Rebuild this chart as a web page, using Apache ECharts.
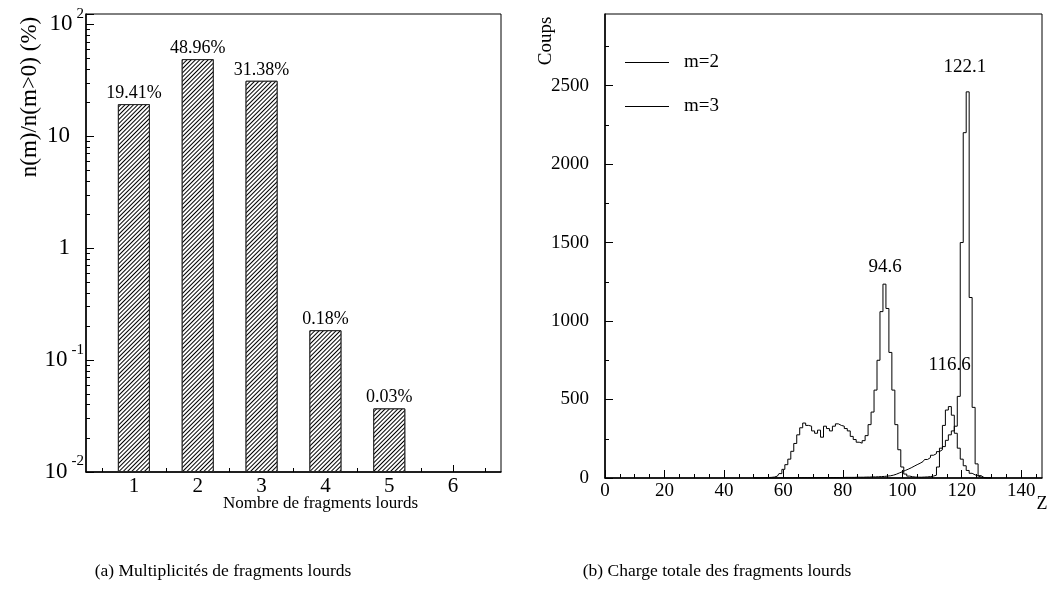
<!DOCTYPE html>
<html><head><meta charset="utf-8">
<script src="https://cdn.jsdelivr.net/npm/echarts@6/dist/echarts.min.js"></script>
<style>html,body{margin:0;padding:0;background:#fff}#c{width:1050px;height:601px}</style>
</head><body><div id="c"></div>
<script>
// ---- Left panel data: multiplicity of heavy fragments ----
const multCategories = [1, 2, 3, 4, 5];
const multValues = [19.41, 48.96, 31.38, 0.185, 0.037];
const multLabels = ['19.41%', '48.96%', '31.38%', '0.18%', '0.03%'];
const multTickValues = [1, 2, 3, 4, 5, 6];
const multMinorTickValues = [0.5, 1.5, 2.5, 3.5, 4.5, 5.5, 6.5];

// ---- Right panel data: total charge of heavy fragments ----
const zBins = [50,51,52,53,54,55,56,57,58,59,60,61,62,63,64,65,66,67,68,69,70,71,72,73,74,75,76,77,78,79,80,81,82,83,84,85,86,87,88,89,90,91,92,93,94,95,96,97,98,99,100,101,102,103,104,105,106,107,108,109,110,111,112,113,114,115,116,117,118,119,120,121,122,123,124,125,126,127,128,129,130];
const m2Counts = [0,0,0,1,2,3,4,6,12,28,
  55,85,120,170,220,275,320,350,335,330,
  300,285,305,260,330,315,300,330,345,335,
  330,315,300,265,245,228,222,238,270,340,
  420,560,750,1060,1235,1080,800,560,340,180,
  70,25,12,8,6,5,5,6,7,9,
  12,18,70,190,335,433,455,400,285,190,
  120,78,48,30,20,13,6,2,0,0,
  0];
const m3Counts = [0,0,0,0,0,0,0,0,0,1,
  1,1,1,1,2,2,2,2,2,2,
  2,2,3,3,3,3,3,3,3,3,
  3,4,4,4,4,5,5,5,6,6,
  7,7,8,9,10,12,14,18,24,32,
  40,48,56,65,75,85,94,105,118,130,
  145,155,168,180,200,240,275,300,330,520,
  1500,2200,2460,1150,450,90,15,3,0,0,
  0];
const peakNames = ['94.6', '116.6', '122.1'];
const peakZ = [94.6, 116.6, 122.1];
const peakCounts = [1240, 455, 2460];
const zTickValues = [0, 20, 40, 60, 80, 100, 120, 140];
const zMinorTickValues = [5,10,15,25,30,35,45,50,55,65,70,75,85,90,95,105,110,115,125,130,135,145];
const countTickValues = [0, 500, 1000, 1500, 2000, 2500];
const countMinorTickValues = [250, 750, 1250, 1750, 2250, 2750];

const FONT = '"Liberation Serif", "Times New Roman", serif';
const logMax = 124;
const logMinorTicks = [];
[0.01, 0.1, 1, 10].forEach(function (d) { for (let k = 2; k <= 9; k++) logMinorTicks.push(Math.log10(k * d)); });

const chart = echarts.init(document.getElementById('c'), null, { renderer: 'canvas' });
const black = '#000';
const axisLineStyle = { show: true, onZero: false, lineStyle: { color: black, width: 1.5 } };
const noLine = { show: false, onZero: false };
const plain = function (v) { return String(v); };

const option = {
  animation: false,
  backgroundColor: '#fff',
  aria: { enabled: true, decal: { show: true } },
  textStyle: { fontFamily: FONT, color: black },
  grid: [
    { left: 86, top: 14, width: 415, height: 458, show: true, borderColor: black, borderWidth: 1, containLabel: false },
    { left: 605, top: 14, width: 437, height: 464, show: true, borderColor: black, borderWidth: 1, containLabel: false }
  ],
  legend: {
    data: ['m=2', 'm=3'],
    orient: 'vertical',
    left: 620, top: 48,
    icon: 'rect', itemWidth: 44, itemHeight: 1, itemGap: 25,
    textStyle: { fontFamily: FONT, fontSize: 19, color: black, padding: [0, 0, 0, 10] }
  },
  xAxis: [
    { gridIndex: 0, type: 'value', position: 'bottom', min: 0.25, max: 6.75,
      axisLine: axisLineStyle, splitLine: { show: false },
      axisTick: { inside: true, length: 7, customValues: multTickValues, lineStyle: { color: black } },
      axisLabel: { customValues: multTickValues, formatter: plain, fontFamily: FONT, fontSize: 21, color: black, margin: 4 } },
    { gridIndex: 0, type: 'value', position: 'bottom', min: 0.25, max: 6.75,
      axisLine: noLine, splitLine: { show: false }, axisLabel: { show: false },
      axisTick: { inside: true, length: 4, customValues: multMinorTickValues, lineStyle: { color: black } } },
    { gridIndex: 1, type: 'value', position: 'bottom', min: 0, max: 147,
      axisLine: axisLineStyle, splitLine: { show: false },
      axisTick: { inside: true, length: 8, customValues: zTickValues, lineStyle: { color: black } },
      axisLabel: { customValues: zTickValues, formatter: plain, fontFamily: FONT, fontSize: 19, color: black, margin: 4 } },
    { gridIndex: 1, type: 'value', position: 'bottom', min: 0, max: 147,
      axisLine: noLine, splitLine: { show: false }, axisLabel: { show: false },
      axisTick: { inside: true, length: 4, customValues: zMinorTickValues, lineStyle: { color: black } } }
  ],
  yAxis: [
    { gridIndex: 0, type: 'log', position: 'left', logBase: 10, min: 0.01, max: logMax, startValue: 0.01,
      axisLine: axisLineStyle, splitLine: { show: false }, minorTick: { show: false },
      axisTick: { inside: true, length: 8, lineStyle: { color: black } },
      axisLabel: {
        margin: 2, fontFamily: FONT, color: black,
        formatter: function (v) {
          const e = Math.log10(v);
          const r = Math.round(e);
          if (Math.abs(e - r) > 1e-6) return '';
          if (r === 1) return '{b|10}{g|}';
          if (r === 0) return '{b|1}{g|}';
          return '{b|10}{s|' + r + '}';
        },
        rich: {
          b: { fontFamily: FONT, fontSize: 23, lineHeight: 40, color: black },
          s: { fontFamily: FONT, fontSize: 15, lineHeight: 15, verticalAlign: 'top', color: black, padding: [2, 0, 0, 4] },
          g: { width: 14 }
        }
      } },
    { gridIndex: 0, type: 'value', position: 'left', min: -2, max: Math.log10(logMax),
      axisLine: noLine, splitLine: { show: false }, axisLabel: { show: false },
      axisTick: { inside: true, length: 4, customValues: logMinorTicks, lineStyle: { color: black } } },
    { gridIndex: 1, type: 'value', position: 'left', min: 0, max: 2956,
      axisLine: axisLineStyle, splitLine: { show: false },
      axisTick: { inside: true, length: 8, customValues: countTickValues, lineStyle: { color: black } },
      axisLabel: { customValues: countTickValues, formatter: plain, fontFamily: FONT, fontSize: 19, color: black, margin: 16 } },
    { gridIndex: 1, type: 'value', position: 'left', min: 0, max: 2956,
      axisLine: noLine, splitLine: { show: false }, axisLabel: { show: false },
      axisTick: { inside: true, length: 4, customValues: countMinorTickValues, lineStyle: { color: black } } }
  ],
  series: [
    { type: 'bar', name: 'mult', xAxisIndex: 0, yAxisIndex: 0,
      data: multCategories.map(function (c, i) { return [c, multValues[i]]; }),
      barWidth: 32,
      itemStyle: { color: '#fff', borderColor: '#222', borderWidth: 1,
        decal: { symbol: 'rect', symbolSize: 1, color: '#000', backgroundColor: '#fff',
                 dashArrayX: [1, 0], dashArrayY: [1, 2], rotation: -Math.PI / 4 } },
      label: { show: true, position: 'top', distance: 2, fontFamily: FONT, fontSize: 18, color: black,
        formatter: function (p) { return multLabels[p.dataIndex]; } } },
    { type: 'line', name: 'm=2', xAxisIndex: 2, yAxisIndex: 2,
      data: zBins.map(function (z, i) { return [z, m2Counts[i]]; }),
      step: 'middle', showSymbol: false, symbol: 'none', color: black,
      itemStyle: { color: black },
      lineStyle: { color: black, width: 1 },
      markPoint: { symbol: 'circle', symbolSize: 0, animation: false,
        label: { show: true, fontFamily: FONT, fontSize: 19, color: black, position: 'inside' },
        data: [
          { coord: [peakZ[0], peakCounts[0]], value: peakNames[0], label: { offset: [-1, -16] } },
          { coord: [peakZ[1], peakCounts[1]], value: peakNames[1], label: { offset: [-2, -42] } }
        ] } },
    { type: 'line', name: 'm=3', xAxisIndex: 2, yAxisIndex: 2,
      data: zBins.map(function (z, i) { return [z, m3Counts[i]]; }),
      step: 'middle', showSymbol: false, symbol: 'none', color: black,
      itemStyle: { color: black },
      lineStyle: { color: black, width: 1 },
      markPoint: { symbol: 'circle', symbolSize: 0, animation: false,
        label: { show: true, fontFamily: FONT, fontSize: 19, color: black, position: 'inside' },
        data: [
          { coord: [peakZ[2], peakCounts[2]], value: peakNames[2], label: { offset: [-3, -25] } }
        ] } }
  ],
  graphic: [
    { type: 'text', x: 30, y: 97, rotation: Math.PI / 2,
      style: { text: 'n(m)/n(m>0) (%)', fontFamily: FONT, fontSize: 23, fill: black, align: 'center', verticalAlign: 'middle' } },
    { type: 'text', x: 546, y: 41, rotation: Math.PI / 2,
      style: { text: 'Coups', fontFamily: FONT, fontSize: 19, fill: black, align: 'center', verticalAlign: 'middle' } },
    { type: 'text', x: 418, y: 504,
      style: { text: 'Nombre de fragments lourds', fontFamily: FONT, fontSize: 17, fill: black, align: 'right', verticalAlign: 'middle' } },
    { type: 'text', x: 1042, y: 504,
      style: { text: 'Z', fontFamily: FONT, fontSize: 18, fill: black, align: 'center', verticalAlign: 'middle' } },
    { type: 'text', x: 223, y: 571,
      style: { text: '(a) Multiplicités de fragments lourds', fontFamily: FONT, fontSize: 17.5, fill: black, align: 'center', verticalAlign: 'middle' } },
    { type: 'text', x: 717, y: 571,
      style: { text: '(b) Charge totale des fragments lourds', fontFamily: FONT, fontSize: 17.5, fill: black, align: 'center', verticalAlign: 'middle' } }
  ]
};
chart.setOption(option);
</script>
</body></html>
